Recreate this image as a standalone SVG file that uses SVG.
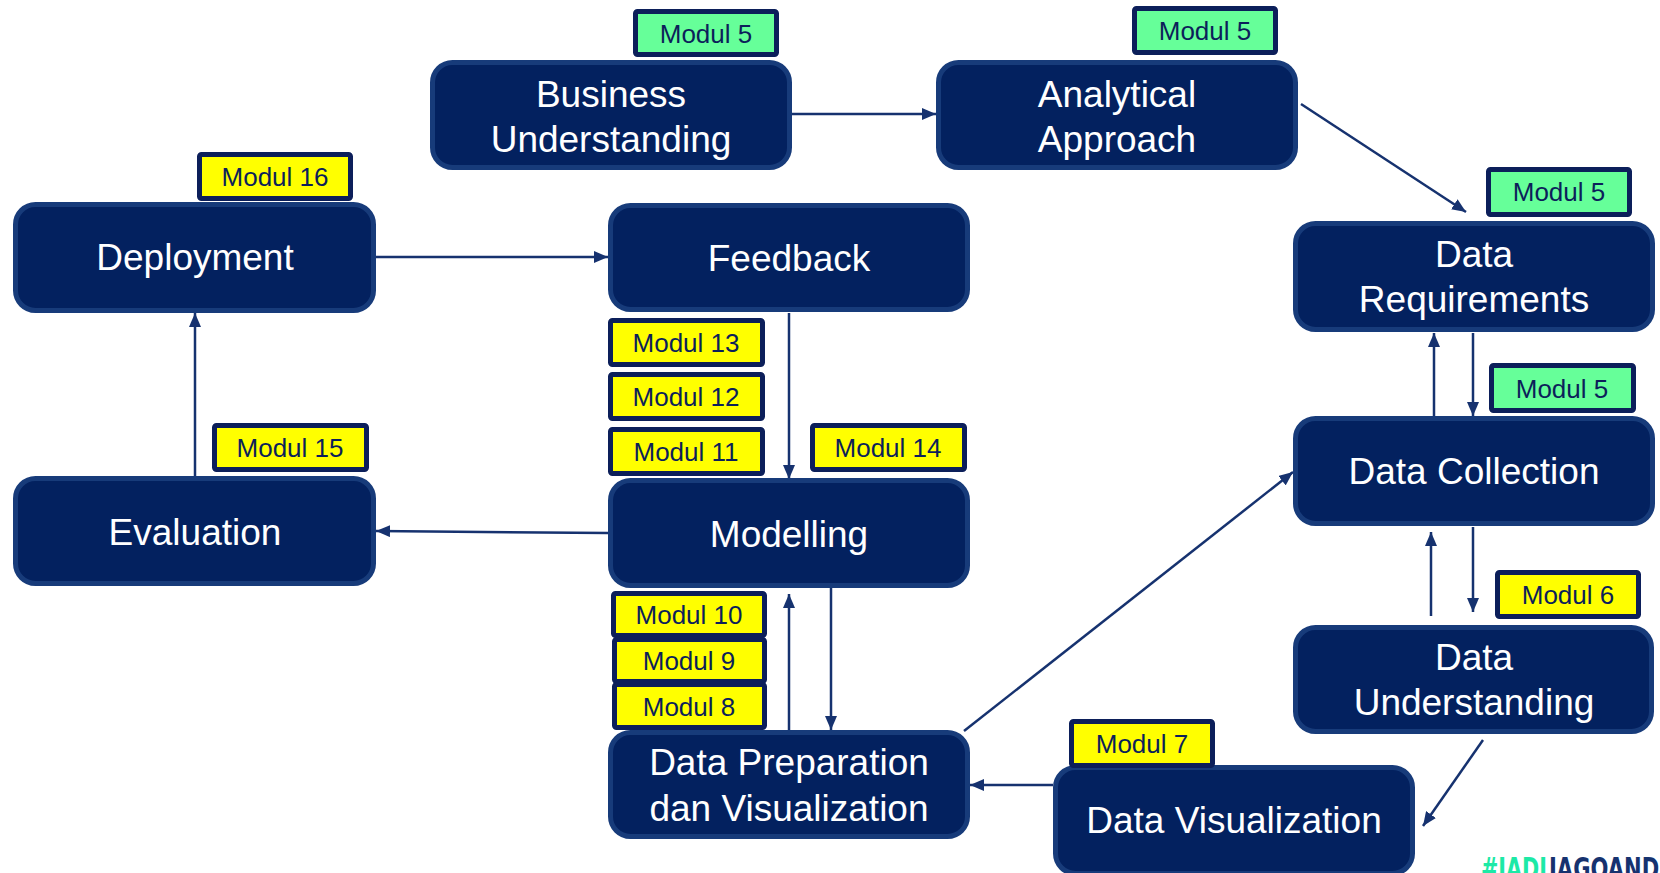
<svg xmlns="http://www.w3.org/2000/svg" width="1660" height="873" viewBox="0 0 1660 873">
  <style>
    .node rect { fill: #03215f; stroke: #173b7a; stroke-width: 5; }
    .node text { fill: #ffffff; font-family: "Liberation Sans", Arial, sans-serif; font-size: 37px; text-anchor: middle; }
    .tag rect { stroke: #0c1f5a; stroke-width: 5; }
    .tag.green rect { fill: #66ff99; }
    .tag.yellow rect { fill: #ffff00; }
    .tag text { fill: #0c1f5a; font-family: "Liberation Sans", Arial, sans-serif; font-size: 26px; text-anchor: middle; }
    .edge { stroke: #16326f; stroke-width: 2.5; fill: none; marker-end: url(#head); }
    .brand { font-family: "Liberation Sans Narrow", "DejaVu Sans Condensed", sans-serif; font-weight: bold; font-size: 30px; }
  </style>
  <defs>
    <marker id="head" viewBox="0 0 14 12" refX="14" refY="6" markerWidth="14" markerHeight="12" markerUnits="userSpaceOnUse" orient="auto">
      <path d="M0,0 L14,6 L0,12 Z" fill="#16326f"/>
    </marker>
  </defs>

  <rect width="1660" height="873" fill="#ffffff"/>

  <!-- connectors -->
  <g id="connectors">
    <line class="edge" x1="792" y1="114" x2="936" y2="114"/>
    <line class="edge" x1="1301" y1="104" x2="1466" y2="212"/>
    <line class="edge" x1="1473" y1="333" x2="1473" y2="416"/>
    <line class="edge" x1="1434" y1="416" x2="1434" y2="333"/>
    <line class="edge" x1="1473" y1="527" x2="1473" y2="612"/>
    <line class="edge" x1="1431" y1="616" x2="1431" y2="532"/>
    <line class="edge" x1="1483" y1="740" x2="1423" y2="826"/>
    <line class="edge" x1="1053" y1="785" x2="970" y2="785"/>
    <line class="edge" x1="964" y1="731" x2="1293" y2="472"/>
    <line class="edge" x1="789" y1="731" x2="789" y2="594"/>
    <line class="edge" x1="831" y1="588" x2="831" y2="730"/>
    <line class="edge" x1="789" y1="313" x2="789" y2="479"/>
    <line class="edge" x1="608" y1="533" x2="376" y2="531"/>
    <line class="edge" x1="195" y1="476" x2="195" y2="313"/>
    <line class="edge" x1="376" y1="257" x2="608" y2="257"/>
  </g>

  <!-- process nodes -->
  <g id="business-understanding" class="node">
    <rect x="432.5" y="62.5" width="357" height="105" rx="20"/>
    <text x="611" y="107">Business</text>
    <text x="611" y="152">Understanding</text>
  </g>
  <g id="analytical-approach" class="node">
    <rect x="938.5" y="62.5" width="357" height="105" rx="20"/>
    <text x="1117" y="107">Analytical</text>
    <text x="1117" y="152">Approach</text>
  </g>
  <g id="deployment" class="node">
    <rect x="15.5" y="204.5" width="358" height="106" rx="20"/>
    <text x="195" y="270">Deployment</text>
  </g>
  <g id="feedback" class="node">
    <rect x="610.5" y="205.5" width="357" height="104" rx="20"/>
    <text x="789" y="271">Feedback</text>
  </g>
  <g id="data-requirements" class="node">
    <rect x="1295.5" y="223.5" width="357" height="106" rx="20"/>
    <text x="1474" y="267">Data</text>
    <text x="1474" y="312">Requirements</text>
  </g>
  <g id="data-collection" class="node">
    <rect x="1295.5" y="418.5" width="357" height="105" rx="20"/>
    <text x="1474" y="484">Data Collection</text>
  </g>
  <g id="evaluation" class="node">
    <rect x="15.5" y="478.5" width="358" height="105" rx="20"/>
    <text x="195" y="545">Evaluation</text>
  </g>
  <g id="modelling" class="node">
    <rect x="610.5" y="480.5" width="357" height="105" rx="20"/>
    <text x="789" y="547">Modelling</text>
  </g>
  <g id="data-understanding" class="node">
    <rect x="1295.5" y="627.5" width="356" height="104" rx="20"/>
    <text x="1474" y="670">Data</text>
    <text x="1474" y="715">Understanding</text>
  </g>
  <g id="data-preparation" class="node">
    <rect x="610.5" y="732.5" width="357" height="104" rx="20"/>
    <text x="789" y="775">Data Preparation</text>
    <text x="789" y="821">dan Visualization</text>
  </g>
  <g id="data-visualization" class="node">
    <rect x="1055.5" y="767.5" width="357" height="106" rx="20"/>
    <text x="1234" y="833">Data Visualization</text>
  </g>

  <!-- module tags -->
  <g id="tag-bu" class="tag green">
    <rect x="635.5" y="11.5" width="141" height="43" rx="2"/>
    <text x="706" y="43">Modul 5</text>
  </g>
  <g id="tag-aa" class="tag green">
    <rect x="1134.5" y="8.5" width="141" height="44" rx="2"/>
    <text x="1205" y="40">Modul 5</text>
  </g>
  <g id="tag-deployment" class="tag yellow">
    <rect x="199.5" y="154.5" width="151" height="44" rx="2"/>
    <text x="275" y="186">Modul 16</text>
  </g>
  <g id="tag-dr" class="tag green">
    <rect x="1488.5" y="169.5" width="141" height="45" rx="2"/>
    <text x="1559" y="201">Modul 5</text>
  </g>
  <g id="tag-13" class="tag yellow">
    <rect x="610.5" y="320.5" width="152" height="44" rx="2"/>
    <text x="686" y="352">Modul 13</text>
  </g>
  <g id="tag-12" class="tag yellow">
    <rect x="610.5" y="374.5" width="152" height="44" rx="2"/>
    <text x="686" y="406">Modul 12</text>
  </g>
  <g id="tag-11" class="tag yellow">
    <rect x="610.5" y="429.5" width="152" height="44" rx="2"/>
    <text x="686" y="461">Modul 11</text>
  </g>
  <g id="tag-14" class="tag yellow">
    <rect x="812.5" y="425.5" width="152" height="44" rx="2"/>
    <text x="888" y="457">Modul 14</text>
  </g>
  <g id="tag-dc" class="tag green">
    <rect x="1491.5" y="365.5" width="142" height="45" rx="2"/>
    <text x="1562" y="398">Modul 5</text>
  </g>
  <g id="tag-15" class="tag yellow">
    <rect x="214.5" y="425.5" width="152" height="44" rx="2"/>
    <text x="290" y="457">Modul 15</text>
  </g>
  <g id="tag-10" class="tag yellow">
    <rect x="613.5" y="593.5" width="151" height="42" rx="2"/>
    <text x="689" y="624">Modul 10</text>
  </g>
  <g id="tag-9" class="tag yellow">
    <rect x="614.5" y="639.5" width="150" height="42" rx="2"/>
    <text x="689" y="670">Modul 9</text>
  </g>
  <g id="tag-8" class="tag yellow">
    <rect x="614.5" y="684.5" width="150" height="43" rx="2"/>
    <text x="689" y="716">Modul 8</text>
  </g>
  <g id="tag-6" class="tag yellow">
    <rect x="1497.5" y="572.5" width="141" height="44" rx="2"/>
    <text x="1568" y="604">Modul 6</text>
  </g>
  <g id="tag-7" class="tag yellow">
    <rect x="1071.5" y="721.5" width="141" height="44" rx="2"/>
    <text x="1142" y="753">Modul 7</text>
  </g>

  <!-- brand line, running off the lower right edge -->
  <g id="brand">
    <text class="brand" x="1481" y="879" fill="#1de9a6" textLength="66" lengthAdjust="spacingAndGlyphs">#JADI</text>
    <text class="brand" x="1549" y="879" fill="#16326f" textLength="118" lengthAdjust="spacingAndGlyphs">JAGOANDI</text>
  </g>
</svg>
